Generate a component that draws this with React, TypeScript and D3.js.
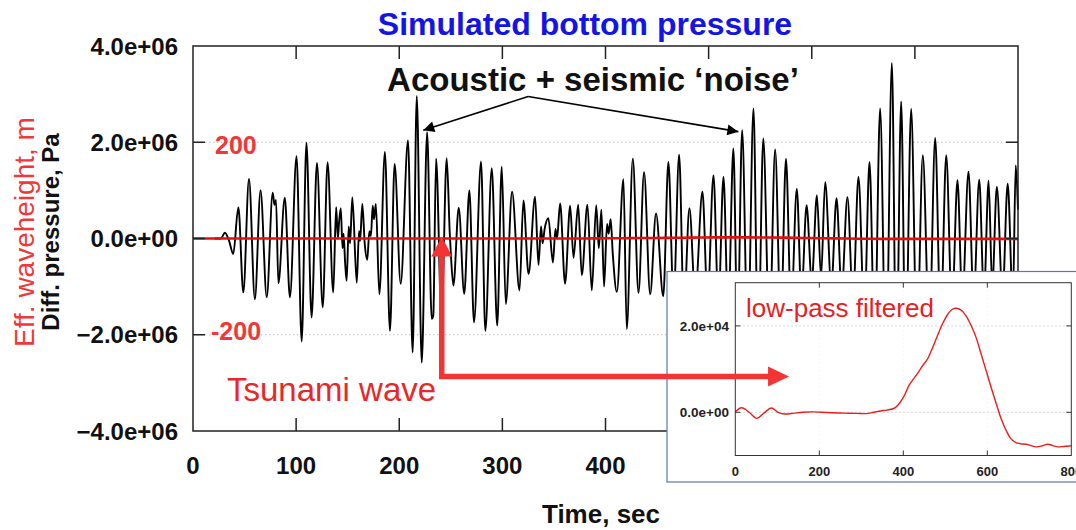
import React from "react";
import * as d3 from "d3";

// ---------- data ----------
const mainTicksX = [0, 100, 200, 300, 400, 500, 600, 700, 800];
const mainTicksY = [-4e6, -2e6, 0, 2e6, 4e6];
const waveTicks = [2e6, -2e6];
const waveTickLabels = ["200", "-200"];
const insetTicksX = [0, 200, 400, 600, 800];
const insetTicksY = [0, 2e4];

// simulated bottom pressure [time s, pressure MPa] (extrema)
const pressureSamples: [number, number][] = [
  [21, 0], [27, 0], [31, 0.12], [35, -0.05], [39, -0.32], [44, 0.65], [48.8, -1.12], [54.3, 1.24],
  [60, -1.26], [65.5, 1.0], [71.5, -1.22], [77.3, 0.95], [79, 0.7], [80.5, 0.8], [82.8, -0.93],
  [89, 0.85], [94, -1.22], [100.4, 1.71], [105.4, -2.14], [110, 1.99], [115, -1.64], [120.2, 1.57],
  [125.8, -1.43], [130.5, 1.58], [136, -1.12], [138.8, 0.65], [140.5, 0.0], [141.5, 0.3], [143.3, 0.63],
  [145, -0.2], [146, 0.1], [147.5, -0.5], [149, -0.88], [151, 0.25], [152.3, -0.1], [154.5, 0.86],
  [158.8, -0.92], [161, 0.15], [162, -0.05], [164.2, 0.72], [166.5, -0.1], [169, -0.44], [171, 0.15],
  [172.5, 0.05], [174.3, 0.68], [175.5, 0.4], [177.3, 0.72], [180.7, -1.16], [186.1, 1.8], [191, -1.92],
  [195.5, 1.55], [201.4, -0.94], [208.5, 2.04], [213, -2.37], [217, 2.96], [221.8, -2.58], [227, 2.21],
  [231.5, -1.67], [233, -1.6], [235.7, 1.66], [241, -1.67], [246, 1.67], [249, 0.1], [250, -0.3],
  [252.5, -0.98], [257.7, 0.64], [263, -1.15], [268, 1.0], [272.5, -1.74], [279.3, 1.6], [283.5, -1.92],
  [289.7, 1.46], [295, -1.81], [299.4, 1.49], [303.3, -1.36], [309.4, 0.97], [316.6, -1.08], [320.4, 0.79],
  [325.4, -0.74], [331.7, 0.87], [335, -0.55], [337.5, 0.25], [339, -0.1], [341, 0.2], [344.6, 0.42],
  [349, -0.5], [351.5, 0.2], [353, 0.0], [356, 0.73], [360.8, -0.94], [365.7, 0.68], [369, -0.4],
  [373.5, 0.7], [377, -0.76], [382.5, 0.7], [386.7, -1.08], [391, 0.69], [393.5, -0.2], [396, 0.6],
  [398.6, -1.0], [401.5, 0.3], [403, 0.1], [405, 0.4], [407, -0.3], [411, -1.11], [417.4, 1.23],
  [420.6, -1.88], [426.5, 1.66], [432, -1.13], [437.4, 1.38], [443.3, -1.16], [449, 0.52], [456, -1.2],
  [461, 1.59], [466, -1.3], [471.4, 1.74], [476, -1.5], [481.4, 0.63], [487, -1.2], [494, 0.97],
  [499, -1.3], [504.7, 1.31], [509.5, -1.4], [514.4, 1.28], [519, -1.6], [524, 1.87], [528, -2.0],
  [532.5, 2.25], [538, -2.2], [543.5, 2.7], [548, -2.4], [553, 2.08], [559, -2.0], [564.5, 1.85],
  [570, -1.8], [575, 1.66], [580, -1.5], [585.5, 1.03], [590, -1.2], [595, 0.69], [600, -0.9],
  [605, 0.9], [609, -0.8], [613, 1.17], [619, -1.0], [624, 0.84], [629, -1.1], [634.6, 0.86],
  [640, -1.3], [645.3, 1.28], [651, -1.6], [656, 1.59], [661, -2.2], [666.3, 2.7], [672, -2.8],
  [677.7, 3.65], [682, -2.8], [686.7, 2.85], [691, -2.5], [696.4, 2.69], [702, -2.2], [707.7, 1.73],
  [714, -2.0], [719.7, 2.09], [725, -1.8], [730.4, 1.73], [736, -1.5], [741.3, 1.21], [746, -1.3],
  [752, 1.39], [757, -1.3], [762.4, 1.22], [767, -1.2], [771.5, 1.2], [775, -1.0], [779.5, 1.07],
  [785, -1.2], [790, 1.14], [795, -1.3], [797.8, 1.52], [800, 0.6],
];

// low-pass filtered signal [time s, pressure Pa]
const lowPassSamples: [number, number][] = [
  [0, 100], [15, 1050], [33, 0], [51, -1400], [68, -200], [86, 1000], [102, 0], [118, -400],
  [140, -200], [160, 0], [185, 100], [205, 0], [230, -100], [260, -200], [290, -250], [311, -300],
  [330, 0], [345, 300], [360, 500], [371, 700], [381, 1100], [391, 2100], [402, 3800], [414, 6300],
  [434, 9000], [446, 10800], [458, 12400], [470, 15000], [482, 17900], [494, 20600], [506, 22700],
  [516, 23800], [526, 24100], [537, 23700], [549, 22400], [561, 20200], [573, 17400], [585, 13600],
  [597, 9700], [609, 5800], [621, 2100], [633, -1500], [645, -4200], [656, -6100], [668, -7000],
  [680, -7300], [692, -7400], [704, -7700], [716, -8000], [730, -7800], [744, -7400], [756, -7700],
  [768, -8000], [782, -7900], [795, -7800], [800, -7700],
];

const FONT = "'Liberation Sans', Arial, Helvetica, sans-serif";
const RED = "#e81e1e";
const LABEL_RED = "#f03838";

export default function App() {
  const W = 1076, H = 530;
  const x = d3.scaleLinear().domain([0, 800]).range([193, 1018]);
  const y = d3.scaleLinear().domain([-4e6, 4e6]).range([431, 46]);
  const ix = d3.scaleLinear().domain([0, 800]).range([735.3, 1071.3]);
  const iy = d3.scaleLinear().domain([-1e4, 3e4]).range([455.5, 282.7]);

  const insetBox = { x: 667, y: 271.5, w: 430, h: 210.5 };

  const noisePath = d3.line<[number, number]>()
    .x(d => x(d[0])).y(d => y(d[1] * 1e6)).curve(d3.curveMonotoneX)(pressureSamples) || "";
  const redMainPath = d3.line<[number, number]>()
    .x(d => x(d[0])).y(d => y(d[1])).curve(d3.curveBasis)(lowPassSamples) || "";
  const insetPath = d3.line<[number, number]>()
    .x(d => ix(d[0])).y(d => iy(d[1])).curve(d3.curveCatmullRom)(lowPassSamples) || "";

  const [x0, x1] = x.range();
  const [yb, yt] = y.range();
  const [ix0, ix1] = ix.range();
  const [iyb, iyt] = iy.range();

  // annotation anchors (in data coordinates)
  const apex = [x(325), y(2.95e6)];
  const tipL = [x(223.3), y(2.25e6)];
  const tipR = [x(528.8), y(2.22e6)];
  const upTip = [x(241.2), y(0.04e6)];
  const corner = [x(241.2), y(-2.87e6)];
  const rightTip = [ix(128), y(-2.87e6)];

  const fmtY = (v: number) =>
    d3.format(".1e")(v).replace(/e([+-])(\d)$/, "e$10$2");

  return (
    <svg width={W} height={H} style={{ position: "absolute", left: 0, top: 0, background: "#fff" }}
      fontFamily={FONT}>
      <defs>
        <marker id="ah" viewBox="0 0 10 10" refX="10" refY="5" markerWidth="15" markerHeight="11"
          markerUnits="userSpaceOnUse" orient="auto">
          <path d="M0,0 L10,5 L0,10 z" fill="#000" />
        </marker>
      </defs>
      <rect x={0} y={0} width={W} height={H} fill="#fff" />

      {/* title */}
      <text x={585} y={35} textAnchor="middle" fontSize={32} fontWeight="bold" fill="#1414e6">
        Simulated bottom pressure
      </text>

      {/* grid at +-200 */}
      {waveTicks.map(v => (
        <line key={"g" + v} x1={x0} x2={x1} y1={y(v)} y2={y(v)} stroke="#bbb" strokeWidth={1}
          strokeDasharray="1.5,2.5" />
      ))}

      {/* signal */}
      <path d={noisePath} fill="none" stroke="#000" strokeWidth={1.9} strokeLinejoin="round" />
      {/* effective wave height (red) */}
      <path d={redMainPath} fill="none" stroke="#e01010" strokeWidth={2.6} />

      {/* frame */}
      <rect x={x0} y={yt} width={x1 - x0} height={yb - yt} fill="none" stroke="#222" strokeWidth={1.5} />
      {mainTicksX.slice(1, -1).map(v => (
        <g key={"tx" + v}>
          <line x1={x(v)} x2={x(v)} y1={yt} y2={yt + 13} stroke="#222" strokeWidth={1.5} />
          <line x1={x(v)} x2={x(v)} y1={yb} y2={yb - 13} stroke="#222" strokeWidth={1.5} />
        </g>
      ))}
      {mainTicksY.slice(1, -1).map(v => (
        <g key={"ty" + v}>
          <line x1={x0} x2={x0 + 12} y1={y(v)} y2={y(v)} stroke="#222" strokeWidth={1.5} />
          <line x1={x1} x2={x1 - 12} y1={y(v)} y2={y(v)} stroke="#222" strokeWidth={1.5} />
        </g>
      ))}

      {/* y tick labels */}
      {mainTicksY.map(v => (
        <text key={"ly" + v} x={178} y={y(v) + 8.5} textAnchor="end" fontSize={24} fontWeight="bold" fill="#111">
          {fmtY(v)}
        </text>
      ))}
      {/* x tick labels (those under the inset are hidden, as in the original) */}
      {mainTicksX.filter(v => x(v) + 20 < insetBox.x).map(v => (
        <text key={"lx" + v} x={x(v)} y={474} textAnchor="middle" fontSize={24} fontWeight="bold" fill="#111">
          {v}
        </text>
      ))}
      <text x={601} y={523} textAnchor="middle" fontSize={26} fontWeight="bold" fill="#111">Time, sec</text>

      {/* y axis titles */}
      <text transform="translate(59,232) rotate(-90)" textAnchor="middle" fontSize={24} fontWeight="bold" fill="#111">
        Diff. pressure, Pa
      </text>
      <text transform="translate(34,232) rotate(-90)" textAnchor="middle" fontSize={28} fill={LABEL_RED}>
        Eff. waveheight, m
      </text>

      {/* wave height labels */}
      {waveTicks.map((v, i) => (
        <text key={"w" + v} x={v > 0 ? 215 : 211} y={y(v) + (v > 0 ? 11.5 : 5.5)} fontSize={25}
          fontWeight="bold" fill={LABEL_RED}>
          {waveTickLabels[i]}
        </text>
      ))}

      {/* noise annotation */}
      <text x={593} y={91} textAnchor="middle" fontSize={33} fontWeight="bold" fill="#111">
        Acoustic + seismic ‘noise’
      </text>
      <line x1={apex[0]} y1={apex[1]} x2={tipL[0]} y2={tipL[1]} stroke="#000" strokeWidth={1.6} markerEnd="url(#ah)" />
      <line x1={apex[0]} y1={apex[1]} x2={tipR[0]} y2={tipR[1]} stroke="#000" strokeWidth={1.6} markerEnd="url(#ah)" />

      {/* inset */}
      <rect x={insetBox.x} y={insetBox.y} width={insetBox.w} height={insetBox.h} fill="#fff" stroke="#5a79a5" strokeWidth={1.2} />
      {insetTicksX.slice(1, -1).map(v => (
        <line key={"ivg" + v} x1={ix(v)} x2={ix(v)} y1={iyt} y2={iyb} stroke="#eee" strokeWidth={1}
          strokeDasharray="1,3" />
      ))}
      {insetTicksY.map(v => (
        <line key={"ig" + v} x1={ix0} x2={ix1} y1={iy(v)} y2={iy(v)} stroke="#ccc" strokeWidth={1}
          strokeDasharray="1.5,2.5" />
      ))}
      <path d={insetPath} fill="none" stroke={RED} strokeWidth={1.4} />
      <rect x={ix0} y={iyt} width={ix1 - ix0} height={iyb - iyt} fill="none" stroke="#333" strokeWidth={1} />
      {insetTicksX.slice(1, -1).map(v => (
        <g key={"itx" + v}>
          <line x1={ix(v)} x2={ix(v)} y1={iyt} y2={iyt + 5} stroke="#333" />
          <line x1={ix(v)} x2={ix(v)} y1={iyb} y2={iyb - 5} stroke="#333" />
        </g>
      ))}
      {insetTicksY.map(v => (
        <g key={"ity" + v}>
          <line x1={ix0} x2={ix0 + 5} y1={iy(v)} y2={iy(v)} stroke="#333" />
          <line x1={ix1} x2={ix1 - 5} y1={iy(v)} y2={iy(v)} stroke="#333" />
          <text x={729} y={iy(v) + 5} textAnchor="end" fontSize={13.5} fontWeight="bold" fill="#222">
            {d3.format(".1e")(v).replace(/e([+-])(\d)$/, "e$10$2")}
          </text>
        </g>
      ))}
      {insetTicksX.map(v => (
        <text key={"ilx" + v} x={ix(v)} y={476} textAnchor="middle" fontSize={13} fontWeight="bold" fill="#222">
          {v}
        </text>
      ))}
      <text x={746} y={317} fontSize={26} fill={RED}>low-pass filtered</text>

      {/* tsunami arrow */}
      <polyline points={`${upTip[0]},${upTip[1] + 18} ${corner[0]},${corner[1]} ${rightTip[0] - 20},${rightTip[1]}`}
        fill="none" stroke="#f23434" strokeWidth={5.5} />
      <path d={`M${upTip[0]},${upTip[1]} L${upTip[0] - 10.5},${upTip[1] + 20} L${upTip[0] + 10.5},${upTip[1] + 20} Z`}
        fill="#f23434" />
      <path d={`M${rightTip[0]},${rightTip[1]} L${rightTip[0] - 21},${rightTip[1] - 10} L${rightTip[0] - 21},${rightTip[1] + 10} Z`}
        fill="#f23434" />
      <text x={227} y={401} fontSize={33} fill="#e82828">Tsunami wave</text>
    </svg>
  );
}
